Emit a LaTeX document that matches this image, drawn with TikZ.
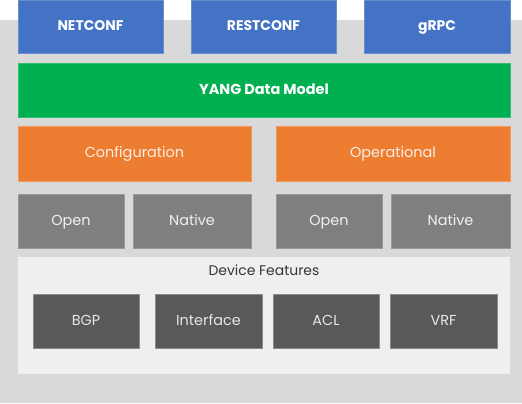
\documentclass[tikz,border=0pt]{standalone}
\usepackage{fontspec}
\setmainfont{Poppins}
\definecolor{bgGray}{HTML}{D9D9D9}
\definecolor{protoBlue}{HTML}{4472C4}
\definecolor{yangGreen}{HTML}{00B050}
\definecolor{dsOrange}{HTML}{ED7D31}
\definecolor{midGray}{HTML}{7F7F7F}
\definecolor{darkGray}{HTML}{595959}
\definecolor{panelGray}{HTML}{EFEFEF}
\tikzset{
  box/.style={rectangle, inner sep=0pt, line width=0.8bp, text height=0.82em, text depth=0pt, font=\fontsize{14.5}{16}\selectfont},
  protobox/.style={box, fill=protoBlue, draw=protoBlue!80!white, text=white, font=\fontsize{14}{16}\selectfont\bfseries, minimum height=53bp},
  yangbox/.style={box, fill=yangGreen, draw=yangGreen!80!white, text=white, font=\fontsize{14.5}{16}\selectfont\bfseries, minimum height=54bp},
  dsbox/.style={box, fill=dsOrange, draw=dsOrange!80!white, text=white!88!dsOrange, minimum height=55bp},
  kindbox/.style={box, fill=midGray, draw=midGray!80!white, text=white!88!midGray, minimum height=54bp},
  panelbox/.style={rectangle, inner sep=0pt, fill=panelGray, draw=none},
  featbox/.style={box, fill=darkGray, draw=darkGray!70!white, text=white!85!darkGray, minimum height=54bp},
  paneltitle/.style={inner sep=0pt, text height=0.82em, text depth=0pt, text=darkGray!60!black, font=\fontsize{14}{16}\selectfont}
}
\begin{document}
\begin{tikzpicture}[x=1bp,y=-1bp]
\useasboundingbox (0,0) rectangle (522,403);
\fill[bgGray] (0,20) rectangle (522,403);
% protocols
\node[protobox, minimum width=145bp] (netconf) at (90.5,26.5) {NETCONF};
\node[protobox, minimum width=145bp] (restconf) at (263.5,26.5) {RESTCONF};
\node[protobox, minimum width=146bp] (grpc) at (437,26.5) {gRPC};
% yang
\node[yangbox, minimum width=492bp] (yang) at (264,90) {YANG Data Model};
% datastores
\node[dsbox, minimum width=233bp] (config) at (134.5,153.5) {Configuration};
\node[dsbox, minimum width=234bp] (oper) at (393,153.5) {Operational};
% model kinds
\node[kindbox, minimum width=106bp] (open1) at (71,221) {Open};
\node[kindbox, minimum width=118bp] (native1) at (192,221) {Native};
\node[kindbox, minimum width=106bp] (open2) at (329,221) {Open};
\node[kindbox, minimum width=119bp] (native2) at (450.5,221) {Native};
% device features
\node[panelbox, minimum width=492bp, minimum height=117bp] (panel) at (264,315.5) {};
\node[paneltitle] (ptitle) at (264,271) {Device Features};
\node[featbox, minimum width=106bp] (bgp) at (86,321) {BGP};
\node[featbox, minimum width=107bp] (iface) at (208.5,321) {Interface};
\node[featbox, minimum width=106bp] (acl) at (326,321) {ACL};
\node[featbox, minimum width=107bp] (vrf) at (443.5,321) {VRF};
\end{tikzpicture}
\end{document}
